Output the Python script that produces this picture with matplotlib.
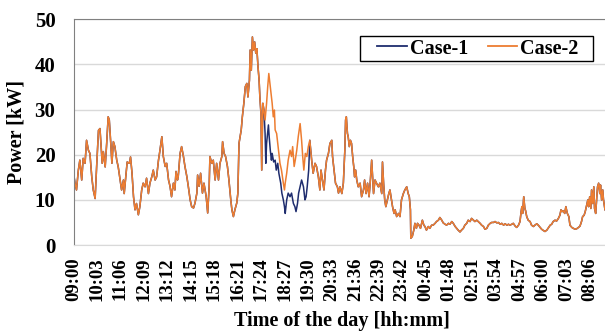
import matplotlib
matplotlib.use("Agg")
import matplotlib.pyplot as plt
from matplotlib.patches import Rectangle

# Time is given as minutes after 09:00, power in kW
case2_min = [
    0, 4, 8, 13, 17, 22, 26, 31, 35, 40,
    44, 49, 53, 58, 62, 67, 71, 74, 77, 80,
    85, 89, 93, 96, 100, 103, 107, 111, 116, 120,
    125, 129, 134, 136, 141, 144, 150, 153, 157, 161,
    165, 169, 174, 178, 183, 187, 192, 196, 201, 205,
    210, 214, 219, 223, 228, 232, 237, 241, 246, 250,
    255, 259, 263, 268, 272, 275, 279, 281, 286, 290,
    295, 299, 304, 308, 313, 317, 322, 326, 331, 333,
    337, 341, 346, 350, 356, 360, 364, 366, 371, 375,
    380, 384, 389, 393, 398, 400, 404, 408, 413, 417,
    422, 425, 429, 433, 438, 441, 444, 447, 450, 453,
    457, 461, 465, 468, 472, 474, 477, 480, 483, 486,
    489, 492, 495, 498, 500, 503, 505, 508, 511, 514,
    518, 521, 524, 527, 530, 533, 536, 539, 541, 545,
    550, 554, 558, 563, 566, 568, 572, 576, 581, 585,
    588, 592, 595, 599, 603, 608, 612, 615, 618, 622,
    626, 630, 634, 639, 643, 648, 652, 657, 661, 664,
    668, 672, 676, 679, 684, 688, 693, 695, 699, 703,
    708, 711, 715, 720, 724, 728, 730, 732, 735, 737,
    740, 743, 746, 749, 752, 754, 757, 760, 764, 769,
    773, 778, 781, 785, 789, 793, 796, 800, 803, 805,
    809, 813, 818, 822, 827, 829, 832, 835, 838, 842,
    846, 849, 853, 856, 860, 863, 867, 872, 876, 880,
    885, 889, 894, 898, 901, 904, 905, 909, 913, 916,
    920, 923, 927, 931, 936, 940, 943, 947, 952, 956,
    961, 965, 970, 974, 979, 983, 988, 992, 997, 1001,
    1006, 1010, 1015, 1019, 1024, 1028, 1032, 1037, 1041, 1046,
    1050, 1055, 1059, 1064, 1068, 1073, 1077, 1082, 1086, 1091,
    1095, 1100, 1104, 1109, 1113, 1118, 1122, 1127, 1131, 1136,
    1140, 1145, 1149, 1154, 1158, 1163, 1167, 1171, 1176, 1180,
    1185, 1189, 1194, 1198, 1201, 1203, 1205, 1208, 1211, 1213,
    1216, 1220, 1225, 1229, 1234, 1238, 1243, 1247, 1252, 1256,
    1261, 1265, 1270, 1274, 1279, 1283, 1287, 1292, 1296, 1301,
    1305, 1308, 1311, 1314, 1318, 1321, 1325, 1329, 1332, 1337,
    1341, 1346, 1350, 1355, 1359, 1363, 1366, 1370, 1373, 1377,
    1380, 1382, 1385, 1388, 1390, 1393, 1396, 1398, 1401, 1404,
    1406, 1409, 1412, 1414, 1417, 1420, 1422, 1426, 1432, 1439,
]
case2_kw = [
    16.0, 13.7, 12.2, 16.6, 18.8, 14.4, 19.2, 18.1, 23.2, 21.0,
    20.3, 15.1, 12.2, 10.3, 17.3, 25.4, 25.8, 21.8, 18.1, 20.7,
    17.3, 22.5, 28.4, 27.7, 22.5, 18.1, 22.9, 21.8, 18.8, 17.3,
    14.4, 12.2, 14.4, 11.4, 15.9, 18.4, 18.1, 19.5, 15.9, 10.7,
    7.8, 9.2, 6.7, 8.5, 12.2, 13.7, 12.9, 14.8, 11.4, 13.7,
    15.1, 16.6, 14.4, 15.1, 18.8, 21.0, 24.0, 19.6, 17.4, 18.1,
    14.4, 13.0, 10.7, 13.7, 12.2, 16.3, 14.4, 15.2, 20.3, 21.8,
    19.6, 17.4, 15.2, 13.0, 10.0, 8.5, 8.2, 9.3, 11.5, 15.5,
    13.0, 15.9, 11.5, 13.7, 10.7, 7.1, 13.0, 19.6, 18.1, 18.8,
    14.4, 18.1, 14.4, 18.1, 19.6, 22.9, 20.3, 19.6, 17.4, 14.4,
    10.0, 7.8, 6.3, 7.8, 9.3, 11.5, 22.5, 24.0, 25.5, 28.4,
    31.4, 35.1, 35.8, 32.8, 36.5, 43.2, 38.7, 46.1, 43.2, 45.0,
    42.5, 43.5, 39.5, 36.5, 32.8, 29.1, 16.6, 31.4, 29.9, 27.7,
    31.4, 35.0, 38.0, 35.8, 33.6, 31.4, 28.4, 29.9, 25.5, 24.7,
    21.0, 18.1, 16.6, 13.7, 12.2, 13.7, 15.9, 18.8, 21.0, 19.6,
    21.8, 17.4, 18.8, 21.0, 24.0, 26.9, 23.2, 19.6, 16.6, 20.3,
    19.6, 21.8, 23.2, 18.8, 15.9, 18.1, 17.4, 15.1, 12.2, 16.6,
    14.4, 12.2, 16.6, 18.8, 20.3, 22.5, 23.2, 19.6, 16.6, 13.7,
    12.9, 11.5, 12.9, 11.4, 13.7, 21.0, 27.7, 28.4, 24.7, 24.0,
    21.8, 23.2, 22.5, 19.6, 17.3, 15.1, 16.6, 14.4, 12.9, 13.7,
    10.7, 12.2, 14.4, 11.4, 13.7, 10.7, 13.7, 18.8, 14.4, 11.4,
    14.4, 13.7, 12.9, 13.7, 11.4, 18.4, 13.7, 10.0, 8.5, 10.0,
    11.4, 12.2, 10.0, 8.5, 7.0, 7.8, 6.3, 7.0, 6.3, 10.0,
    11.4, 12.2, 12.9, 11.4, 10.7, 7.8, 1.5, 1.9, 3.3, 4.8,
    3.7, 4.8, 4.4, 3.7, 5.5, 4.4, 4.1, 3.3, 4.1, 3.7,
    4.4, 4.4, 4.8, 5.2, 5.5, 6.1, 5.5, 4.9, 4.6, 4.4,
    4.8, 4.6, 5.2, 4.8, 4.1, 3.7, 3.3, 2.9, 3.3, 3.7,
    4.4, 4.8, 5.5, 5.2, 5.9, 5.5, 5.2, 5.5, 5.2, 4.8,
    4.4, 4.1, 3.5, 3.7, 4.4, 4.8, 5.0, 5.0, 5.2, 4.9,
    5.0, 4.6, 4.8, 4.4, 4.7, 4.4, 4.6, 4.4, 4.6, 4.8,
    4.2, 3.9, 4.4, 5.2, 7.4, 8.5, 7.0, 10.7, 8.1, 7.6,
    6.3, 5.5, 5.2, 4.4, 4.1, 4.4, 4.7, 4.4, 3.9, 3.5,
    3.2, 3.0, 3.3, 3.8, 4.4, 4.6, 5.2, 5.5, 5.3, 5.9,
    6.6, 7.8, 7.4, 7.6, 7.0, 8.5, 7.0, 6.3, 4.4, 3.9,
    3.7, 3.5, 3.6, 3.9, 4.2, 5.2, 6.3, 6.6, 7.4, 8.9,
    10.0, 8.5, 10.7, 8.1, 12.2, 9.2, 12.9, 8.1, 7.0, 10.7,
    12.9, 13.7, 11.4, 13.3, 10.0, 12.2, 10.0, 7.8, 7.2, 7.8,
]

# Case-1 is the same as Case-2 except in the evening window below
case1_window_min = [
    511, 514, 516, 518, 523, 525, 528, 531, 533, 537,
    541, 544, 548, 551, 556, 559, 563, 566, 568, 572,
    576, 581, 585, 590, 594, 597, 601, 604, 608, 612,
    617, 621, 624, 627, 631, 634,
]
case1_window_kw = [
    29.9, 24.7, 18.1, 22.5, 26.6, 24.0, 21.0, 18.8, 20.3, 18.4,
    18.8, 16.6, 18.1, 15.9, 13.7, 11.5, 10.0, 8.5, 7.0, 10.0,
    11.5, 10.7, 11.5, 9.2, 8.5, 7.4, 9.2, 11.5, 12.9, 14.4,
    12.9, 10.0, 10.7, 12.9, 16.6, 23.2,
]

tick_labels = [
    "09:00", "10:03", "11:06", "12:09", "13:12", "14:15", "15:18", "16:21",
    "17:24", "18:27", "19:30", "20:33", "21:36", "22:39", "23:42", "00:45",
    "01:48", "02:51", "03:54", "04:57", "06:00", "07:03", "08:06",
]
tick_step = 63  # minutes between labels

# Build full Case-1 series
start, end = case1_window_min[0], case1_window_min[-1]
case1_min, case1_kw = [], []
for t, v in zip(case2_min, case2_kw):
    if t < start:
        case1_min.append(t)
        case1_kw.append(v)
case1_min += case1_window_min
case1_kw += case1_window_kw
for t, v in zip(case2_min, case2_kw):
    if t > end:
        case1_min.append(t)
        case1_kw.append(v)

plt.rcParams["font.family"] = ["Liberation Serif", "DejaVu Serif"]
plt.rcParams["font.weight"] = "bold"

W, H = 605, 332
fig = plt.figure(figsize=(W / 100, H / 100), dpi=100)
ax = fig.add_axes([0.1215, 0.262, 0.8871, 0.6798])

l1, = ax.plot(case1_min, case1_kw, color="#1f2d6e", linewidth=1.1, label="Case-1")
l2, = ax.plot(case2_min, case2_kw, color="#ed7d31", linewidth=1.1, label="Case-2")

ax.set_xlim(0, 1440)
ax.set_ylim(0, 50)
ax.set_yticks(range(0, 51, 10))
ax.set_xticks([i * tick_step for i in range(len(tick_labels))])
ax.set_xticklabels(tick_labels, rotation=90)
ax.tick_params(axis="x", length=0, pad=9, labelsize=13.5)
ax.tick_params(axis="y", length=0, pad=13, labelsize=15)

ax.grid(axis="y", color="#d9d9d9", linewidth=1)
ax.set_axisbelow(True)
ax.spines["top"].set_color("#808080")
ax.spines["left"].set_color("#808080")
ax.spines["bottom"].set_color("#d9d9d9")
ax.spines["right"].set_visible(False)

ax.set_xlabel("Time of the day [hh:mm]", fontsize=14.5, fontweight="bold", labelpad=7)
ax.set_ylabel("Power [kW]", fontsize=14.5, fontweight="bold", labelpad=6)

# Legend box drawn separately, entries on top of it
box = Rectangle((360 / W, 1 - 61 / H), 233 / W, 25 / H, transform=fig.transFigure,
                facecolor="white", edgecolor="black", linewidth=1.0, zorder=4)
fig.add_artist(box)
leg = fig.legend([l1, l2], ["Case-1", "Case-2"], loc="center",
                 bbox_to_anchor=(478 / W, 1 - 48.5 / H), ncol=2, frameon=False,
                 borderaxespad=0, borderpad=0, handlelength=1.45, handletextpad=0.15,
                 columnspacing=1.0, prop={"size": 14.5, "weight": "bold"})
leg.set_zorder(5)
for line in leg.get_lines():
    line.set_linewidth(1.3)

fig.savefig("out.png", dpi=100)
